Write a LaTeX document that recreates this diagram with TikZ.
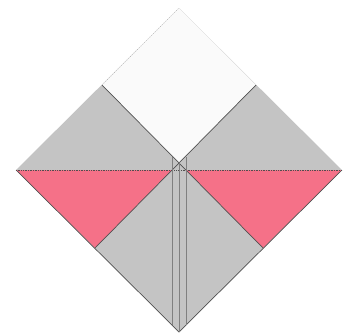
\documentclass[tikz,border=0pt]{standalone}
\definecolor{foldgray}{RGB}{196,196,196}
\definecolor{foldpink}{RGB}{245,113,136}
\definecolor{edgegray}{RGB}{80,80,80}
\tikzset{
  crease/.style={draw=edgegray, line width=0.7pt},
  layer/.style={draw=gray, line width=0.5pt}
}
\begin{document}
\begin{tikzpicture}[x=1pt, y=-1pt, line join=round]
  \useasboundingbox (0,0) rectangle (351,333);
  \coordinate (top) at (179,8);
  \coordinate (left) at (16,170);
  \coordinate (right) at (342,170);
  \coordinate (bottom) at (179,332);
  \coordinate (sqleft) at (102,85);
  \coordinate (sqright) at (256,85);
  \coordinate (mid) at (179,163);
  \coordinate (pinkl) at (95,248);
  \coordinate (pinkr) at (263,248);
  % paper
  \fill[foldgray] (top) -- (left) -- (bottom) -- (right) -- cycle;
  \fill[white!98!black] (top) -- (sqleft) -- (mid) -- (sqright) -- cycle;
  \fill[foldpink] (left) -- (172,170) -- (pinkl) -- cycle;
  \fill[foldpink] (right) -- (186,170) -- (pinkr) -- cycle;
  % edges
  \draw[gray!70, line width=0.5pt, dotted] (sqleft) -- (top);
  \draw[crease] (sqleft) -- (mid) -- (sqright);
  \draw[crease] (pinkl) -- (mid) -- (pinkr);
  \draw[crease, densely dotted] (left) -- (right);
  \draw[crease] (left) -- (bottom) -- (right);
  \draw[layer] (172,157) -- (172,325);
  \draw[layer] (186,157) -- (186,325);
  \draw[layer] (mid) -- (bottom);
\end{tikzpicture}
\end{document}
